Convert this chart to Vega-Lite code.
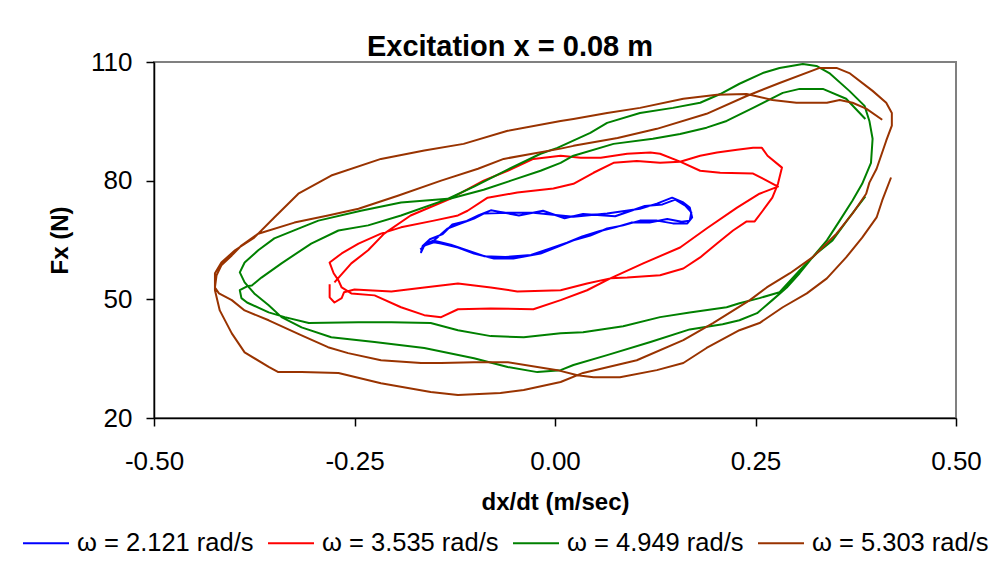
{
"$schema": "https://vega.github.io/schema/vega-lite/v6.json",
"width": 802, "height": 356,
"autosize": {"type": "none"},
"padding": {"left": 154, "top": 62, "right": 47, "bottom": 144},
"background": "white",
"title": {"text": "Excitation x = 0.08 m", "fontSize": 29, "fontWeight": "bold", "font": "Liberation Sans", "color": "black", "anchor": "middle", "dx": -45, "offset": -13},
"data": {"values": [
{"s":"ω = 2.121 rad/s","i":1,"x":-0.167,"y":62.4},
{"s":"ω = 2.121 rad/s","i":2,"x":-0.161,"y":64.1},
{"s":"ω = 2.121 rad/s","i":3,"x":-0.151,"y":64.9},
{"s":"ω = 2.121 rad/s","i":4,"x":-0.134,"y":67.9},
{"s":"ω = 2.121 rad/s","i":5,"x":-0.117,"y":69.2},
{"s":"ω = 2.121 rad/s","i":6,"x":-0.101,"y":70.4},
{"s":"ω = 2.121 rad/s","i":7,"x":-0.089,"y":71.7},
{"s":"ω = 2.121 rad/s","i":8,"x":-0.059,"y":71.9},
{"s":"ω = 2.121 rad/s","i":9,"x":-0.027,"y":71.9},
{"s":"ω = 2.121 rad/s","i":10,"x":0.007,"y":71.2},
{"s":"ω = 2.121 rad/s","i":11,"x":0.023,"y":70.9},
{"s":"ω = 2.121 rad/s","i":12,"x":0.065,"y":71.7},
{"s":"ω = 2.121 rad/s","i":13,"x":0.106,"y":72.9},
{"s":"ω = 2.121 rad/s","i":14,"x":0.127,"y":74.2},
{"s":"ω = 2.121 rad/s","i":15,"x":0.146,"y":75.7},
{"s":"ω = 2.121 rad/s","i":16,"x":0.160,"y":74.5},
{"s":"ω = 2.121 rad/s","i":17,"x":0.168,"y":73.2},
{"s":"ω = 2.121 rad/s","i":18,"x":0.171,"y":70.7},
{"s":"ω = 2.121 rad/s","i":19,"x":0.165,"y":69.2},
{"s":"ω = 2.121 rad/s","i":20,"x":0.147,"y":69.2},
{"s":"ω = 2.121 rad/s","i":21,"x":0.127,"y":69.9},
{"s":"ω = 2.121 rad/s","i":22,"x":0.106,"y":69.9},
{"s":"ω = 2.121 rad/s","i":23,"x":0.085,"y":68.7},
{"s":"ω = 2.121 rad/s","i":24,"x":0.065,"y":67.9},
{"s":"ω = 2.121 rad/s","i":25,"x":0.044,"y":66.1},
{"s":"ω = 2.121 rad/s","i":26,"x":0.023,"y":64.9},
{"s":"ω = 2.121 rad/s","i":27,"x":0.007,"y":63.6},
{"s":"ω = 2.121 rad/s","i":28,"x":-0.018,"y":61.6},
{"s":"ω = 2.121 rad/s","i":29,"x":-0.052,"y":60.3},
{"s":"ω = 2.121 rad/s","i":30,"x":-0.076,"y":60.3},
{"s":"ω = 2.121 rad/s","i":31,"x":-0.101,"y":61.6},
{"s":"ω = 2.121 rad/s","i":32,"x":-0.121,"y":63.1},
{"s":"ω = 2.121 rad/s","i":33,"x":-0.142,"y":64.1},
{"s":"ω = 2.121 rad/s","i":34,"x":-0.151,"y":64.4},
{"s":"ω = 2.121 rad/s","i":35,"x":-0.163,"y":63.6},
{"s":"ω = 2.121 rad/s","i":36,"x":-0.167,"y":61.9},
{"s":"ω = 2.121 rad/s","i":37,"x":-0.165,"y":63.5},
{"s":"ω = 2.121 rad/s","i":38,"x":-0.156,"y":65.2},
{"s":"ω = 2.121 rad/s","i":39,"x":-0.140,"y":66.5},
{"s":"ω = 2.121 rad/s","i":40,"x":-0.128,"y":68.9},
{"s":"ω = 2.121 rad/s","i":41,"x":-0.110,"y":69.8},
{"s":"ω = 2.121 rad/s","i":42,"x":-0.095,"y":71.3},
{"s":"ω = 2.121 rad/s","i":43,"x":-0.080,"y":72.5},
{"s":"ω = 2.121 rad/s","i":44,"x":-0.045,"y":71.2},
{"s":"ω = 2.121 rad/s","i":45,"x":-0.015,"y":72.4},
{"s":"ω = 2.121 rad/s","i":46,"x":0.012,"y":70.5},
{"s":"ω = 2.121 rad/s","i":47,"x":0.035,"y":71.6},
{"s":"ω = 2.121 rad/s","i":48,"x":0.075,"y":71.0},
{"s":"ω = 2.121 rad/s","i":49,"x":0.112,"y":73.6},
{"s":"ω = 2.121 rad/s","i":50,"x":0.134,"y":74.0},
{"s":"ω = 2.121 rad/s","i":51,"x":0.150,"y":75.2},
{"s":"ω = 2.121 rad/s","i":52,"x":0.163,"y":73.6},
{"s":"ω = 2.121 rad/s","i":53,"x":0.170,"y":72.0},
{"s":"ω = 2.121 rad/s","i":54,"x":0.168,"y":69.9},
{"s":"ω = 2.121 rad/s","i":55,"x":0.158,"y":69.6},
{"s":"ω = 2.121 rad/s","i":56,"x":0.140,"y":70.3},
{"s":"ω = 2.121 rad/s","i":57,"x":0.118,"y":69.4},
{"s":"ω = 2.121 rad/s","i":58,"x":0.095,"y":69.4},
{"s":"ω = 2.121 rad/s","i":59,"x":0.075,"y":68.2},
{"s":"ω = 2.121 rad/s","i":60,"x":0.055,"y":67.2},
{"s":"ω = 2.121 rad/s","i":61,"x":0.034,"y":65.9},
{"s":"ω = 2.121 rad/s","i":62,"x":0.015,"y":64.3},
{"s":"ω = 2.121 rad/s","i":63,"x":-0.005,"y":62.9},
{"s":"ω = 2.121 rad/s","i":64,"x":-0.030,"y":61.2},
{"s":"ω = 2.121 rad/s","i":65,"x":-0.062,"y":60.7},
{"s":"ω = 2.121 rad/s","i":66,"x":-0.088,"y":60.9},
{"s":"ω = 2.121 rad/s","i":67,"x":-0.110,"y":62.4},
{"s":"ω = 2.121 rad/s","i":68,"x":-0.130,"y":63.8},
{"s":"ω = 2.121 rad/s","i":69,"x":-0.148,"y":64.7},
{"s":"ω = 2.121 rad/s","i":70,"x":-0.160,"y":64.0},
{"s":"ω = 2.121 rad/s","i":71,"x":-0.168,"y":62.6},
{"s":"ω = 3.535 rad/s","i":1,"x":-0.275,"y":54.3},
{"s":"ω = 3.535 rad/s","i":2,"x":-0.254,"y":59.1},
{"s":"ω = 3.535 rad/s","i":3,"x":-0.233,"y":62.4},
{"s":"ω = 3.535 rad/s","i":4,"x":-0.213,"y":66.6},
{"s":"ω = 3.535 rad/s","i":5,"x":-0.180,"y":71.2},
{"s":"ω = 3.535 rad/s","i":6,"x":-0.130,"y":75.5},
{"s":"ω = 3.535 rad/s","i":7,"x":-0.089,"y":80.0},
{"s":"ω = 3.535 rad/s","i":8,"x":-0.059,"y":82.5},
{"s":"ω = 3.535 rad/s","i":9,"x":-0.027,"y":85.5},
{"s":"ω = 3.535 rad/s","i":10,"x":0.007,"y":86.3},
{"s":"ω = 3.535 rad/s","i":11,"x":0.032,"y":85.8},
{"s":"ω = 3.535 rad/s","i":12,"x":0.057,"y":85.8},
{"s":"ω = 3.535 rad/s","i":13,"x":0.090,"y":86.8},
{"s":"ω = 3.535 rad/s","i":14,"x":0.119,"y":87.1},
{"s":"ω = 3.535 rad/s","i":15,"x":0.131,"y":86.8},
{"s":"ω = 3.535 rad/s","i":16,"x":0.156,"y":84.8},
{"s":"ω = 3.535 rad/s","i":17,"x":0.181,"y":82.5},
{"s":"ω = 3.535 rad/s","i":18,"x":0.206,"y":82.0},
{"s":"ω = 3.535 rad/s","i":19,"x":0.247,"y":81.8},
{"s":"ω = 3.535 rad/s","i":20,"x":0.264,"y":80.0},
{"s":"ω = 3.535 rad/s","i":21,"x":0.278,"y":78.5},
{"s":"ω = 3.535 rad/s","i":22,"x":0.255,"y":76.7},
{"s":"ω = 3.535 rad/s","i":23,"x":0.227,"y":73.2},
{"s":"ω = 3.535 rad/s","i":24,"x":0.189,"y":67.9},
{"s":"ω = 3.535 rad/s","i":25,"x":0.156,"y":63.1},
{"s":"ω = 3.535 rad/s","i":26,"x":0.110,"y":59.1},
{"s":"ω = 3.535 rad/s","i":27,"x":0.069,"y":55.3},
{"s":"ω = 3.535 rad/s","i":28,"x":0.040,"y":52.3},
{"s":"ω = 3.535 rad/s","i":29,"x":0.007,"y":49.8},
{"s":"ω = 3.535 rad/s","i":30,"x":-0.027,"y":47.5},
{"s":"ω = 3.535 rad/s","i":31,"x":-0.080,"y":47.7},
{"s":"ω = 3.535 rad/s","i":32,"x":-0.121,"y":47.5},
{"s":"ω = 3.535 rad/s","i":33,"x":-0.142,"y":45.5},
{"s":"ω = 3.535 rad/s","i":34,"x":-0.163,"y":46.0},
{"s":"ω = 3.535 rad/s","i":35,"x":-0.192,"y":48.0},
{"s":"ω = 3.535 rad/s","i":36,"x":-0.225,"y":51.0},
{"s":"ω = 3.535 rad/s","i":37,"x":-0.254,"y":51.5},
{"s":"ω = 3.535 rad/s","i":38,"x":-0.266,"y":53.0},
{"s":"ω = 3.535 rad/s","i":39,"x":-0.270,"y":54.8},
{"s":"ω = 3.535 rad/s","i":40,"x":-0.276,"y":56.6},
{"s":"ω = 3.535 rad/s","i":41,"x":-0.281,"y":59.3},
{"s":"ω = 3.535 rad/s","i":42,"x":-0.266,"y":61.6},
{"s":"ω = 3.535 rad/s","i":43,"x":-0.245,"y":64.1},
{"s":"ω = 3.535 rad/s","i":44,"x":-0.217,"y":66.6},
{"s":"ω = 3.535 rad/s","i":45,"x":-0.192,"y":68.2},
{"s":"ω = 3.535 rad/s","i":46,"x":-0.151,"y":69.9},
{"s":"ω = 3.535 rad/s","i":47,"x":-0.121,"y":71.2},
{"s":"ω = 3.535 rad/s","i":48,"x":-0.109,"y":72.4},
{"s":"ω = 3.535 rad/s","i":49,"x":-0.084,"y":75.7},
{"s":"ω = 3.535 rad/s","i":50,"x":-0.047,"y":77.0},
{"s":"ω = 3.535 rad/s","i":51,"x":-0.002,"y":78.0},
{"s":"ω = 3.535 rad/s","i":52,"x":0.023,"y":79.2},
{"s":"ω = 3.535 rad/s","i":53,"x":0.048,"y":82.0},
{"s":"ω = 3.535 rad/s","i":54,"x":0.073,"y":84.5},
{"s":"ω = 3.535 rad/s","i":55,"x":0.102,"y":85.0},
{"s":"ω = 3.535 rad/s","i":56,"x":0.131,"y":84.5},
{"s":"ω = 3.535 rad/s","i":57,"x":0.156,"y":84.8},
{"s":"ω = 3.535 rad/s","i":58,"x":0.181,"y":86.3},
{"s":"ω = 3.535 rad/s","i":59,"x":0.202,"y":87.1},
{"s":"ω = 3.535 rad/s","i":60,"x":0.227,"y":87.8},
{"s":"ω = 3.535 rad/s","i":61,"x":0.247,"y":88.3},
{"s":"ω = 3.535 rad/s","i":62,"x":0.258,"y":88.3},
{"s":"ω = 3.535 rad/s","i":63,"x":0.265,"y":86.3},
{"s":"ω = 3.535 rad/s","i":64,"x":0.280,"y":83.8},
{"s":"ω = 3.535 rad/s","i":65,"x":0.283,"y":83.3},
{"s":"ω = 3.535 rad/s","i":66,"x":0.278,"y":79.2},
{"s":"ω = 3.535 rad/s","i":67,"x":0.271,"y":75.7},
{"s":"ω = 3.535 rad/s","i":68,"x":0.259,"y":72.4},
{"s":"ω = 3.535 rad/s","i":69,"x":0.249,"y":69.7},
{"s":"ω = 3.535 rad/s","i":70,"x":0.239,"y":69.7},
{"s":"ω = 3.535 rad/s","i":71,"x":0.222,"y":67.4},
{"s":"ω = 3.535 rad/s","i":72,"x":0.202,"y":64.1},
{"s":"ω = 3.535 rad/s","i":73,"x":0.181,"y":60.6},
{"s":"ω = 3.535 rad/s","i":74,"x":0.160,"y":57.8},
{"s":"ω = 3.535 rad/s","i":75,"x":0.131,"y":56.1},
{"s":"ω = 3.535 rad/s","i":76,"x":0.090,"y":55.5},
{"s":"ω = 3.535 rad/s","i":77,"x":0.069,"y":55.3},
{"s":"ω = 3.535 rad/s","i":78,"x":0.040,"y":54.0},
{"s":"ω = 3.535 rad/s","i":79,"x":0.007,"y":52.3},
{"s":"ω = 3.535 rad/s","i":80,"x":-0.047,"y":52.0},
{"s":"ω = 3.535 rad/s","i":81,"x":-0.080,"y":53.0},
{"s":"ω = 3.535 rad/s","i":82,"x":-0.121,"y":54.0},
{"s":"ω = 3.535 rad/s","i":83,"x":-0.163,"y":53.0},
{"s":"ω = 3.535 rad/s","i":84,"x":-0.204,"y":52.0},
{"s":"ω = 3.535 rad/s","i":85,"x":-0.250,"y":52.5},
{"s":"ω = 3.535 rad/s","i":86,"x":-0.263,"y":51.8},
{"s":"ω = 3.535 rad/s","i":87,"x":-0.266,"y":50.3},
{"s":"ω = 3.535 rad/s","i":88,"x":-0.275,"y":49.2},
{"s":"ω = 3.535 rad/s","i":89,"x":-0.281,"y":50.5},
{"s":"ω = 3.535 rad/s","i":90,"x":-0.281,"y":53.8},
{"s":"ω = 4.949 rad/s","i":1,"x":0.387,"y":76.0},
{"s":"ω = 4.949 rad/s","i":2,"x":0.367,"y":70.7},
{"s":"ω = 4.949 rad/s","i":3,"x":0.346,"y":64.9},
{"s":"ω = 4.949 rad/s","i":4,"x":0.326,"y":61.6},
{"s":"ω = 4.949 rad/s","i":5,"x":0.305,"y":57.3},
{"s":"ω = 4.949 rad/s","i":6,"x":0.280,"y":51.8},
{"s":"ω = 4.949 rad/s","i":7,"x":0.255,"y":50.3},
{"s":"ω = 4.949 rad/s","i":8,"x":0.230,"y":49.0},
{"s":"ω = 4.949 rad/s","i":9,"x":0.214,"y":48.0},
{"s":"ω = 4.949 rad/s","i":10,"x":0.168,"y":46.7},
{"s":"ω = 4.949 rad/s","i":11,"x":0.131,"y":45.5},
{"s":"ω = 4.949 rad/s","i":12,"x":0.085,"y":43.2},
{"s":"ω = 4.949 rad/s","i":13,"x":0.035,"y":41.7},
{"s":"ω = 4.949 rad/s","i":14,"x":0.007,"y":41.4},
{"s":"ω = 4.949 rad/s","i":15,"x":-0.039,"y":40.4},
{"s":"ω = 4.949 rad/s","i":16,"x":-0.080,"y":40.7},
{"s":"ω = 4.949 rad/s","i":17,"x":-0.121,"y":42.2},
{"s":"ω = 4.949 rad/s","i":18,"x":-0.155,"y":44.0},
{"s":"ω = 4.949 rad/s","i":19,"x":-0.204,"y":44.2},
{"s":"ω = 4.949 rad/s","i":20,"x":-0.245,"y":44.2},
{"s":"ω = 4.949 rad/s","i":21,"x":-0.307,"y":44.0},
{"s":"ω = 4.949 rad/s","i":22,"x":-0.337,"y":45.5},
{"s":"ω = 4.949 rad/s","i":23,"x":-0.357,"y":46.7},
{"s":"ω = 4.949 rad/s","i":24,"x":-0.384,"y":49.2},
{"s":"ω = 4.949 rad/s","i":25,"x":-0.391,"y":50.3},
{"s":"ω = 4.949 rad/s","i":26,"x":-0.393,"y":52.3},
{"s":"ω = 4.949 rad/s","i":27,"x":-0.384,"y":53.3},
{"s":"ω = 4.949 rad/s","i":28,"x":-0.378,"y":53.5},
{"s":"ω = 4.949 rad/s","i":29,"x":-0.366,"y":55.5},
{"s":"ω = 4.949 rad/s","i":30,"x":-0.341,"y":59.1},
{"s":"ω = 4.949 rad/s","i":31,"x":-0.304,"y":64.1},
{"s":"ω = 4.949 rad/s","i":32,"x":-0.270,"y":67.4},
{"s":"ω = 4.949 rad/s","i":33,"x":-0.233,"y":68.7},
{"s":"ω = 4.949 rad/s","i":34,"x":-0.192,"y":71.2},
{"s":"ω = 4.949 rad/s","i":35,"x":-0.136,"y":75.2},
{"s":"ω = 4.949 rad/s","i":36,"x":-0.101,"y":78.5},
{"s":"ω = 4.949 rad/s","i":37,"x":-0.059,"y":82.8},
{"s":"ω = 4.949 rad/s","i":38,"x":-0.018,"y":86.8},
{"s":"ω = 4.949 rad/s","i":39,"x":0.003,"y":88.3},
{"s":"ω = 4.949 rad/s","i":40,"x":0.044,"y":92.1},
{"s":"ω = 4.949 rad/s","i":41,"x":0.065,"y":94.6},
{"s":"ω = 4.949 rad/s","i":42,"x":0.106,"y":97.1},
{"s":"ω = 4.949 rad/s","i":43,"x":0.147,"y":98.4},
{"s":"ω = 4.949 rad/s","i":44,"x":0.181,"y":99.7},
{"s":"ω = 4.949 rad/s","i":45,"x":0.206,"y":101.9},
{"s":"ω = 4.949 rad/s","i":46,"x":0.230,"y":104.5},
{"s":"ω = 4.949 rad/s","i":47,"x":0.259,"y":107.2},
{"s":"ω = 4.949 rad/s","i":48,"x":0.280,"y":108.5},
{"s":"ω = 4.949 rad/s","i":49,"x":0.309,"y":109.5},
{"s":"ω = 4.949 rad/s","i":50,"x":0.326,"y":109.0},
{"s":"ω = 4.949 rad/s","i":51,"x":0.342,"y":107.2},
{"s":"ω = 4.949 rad/s","i":52,"x":0.367,"y":102.7},
{"s":"ω = 4.949 rad/s","i":53,"x":0.386,"y":98.9},
{"s":"ω = 4.949 rad/s","i":54,"x":0.392,"y":95.1},
{"s":"ω = 4.949 rad/s","i":55,"x":0.396,"y":90.6},
{"s":"ω = 4.949 rad/s","i":56,"x":0.394,"y":84.5},
{"s":"ω = 4.949 rad/s","i":57,"x":0.383,"y":79.2},
{"s":"ω = 4.949 rad/s","i":58,"x":0.371,"y":75.0},
{"s":"ω = 4.949 rad/s","i":59,"x":0.355,"y":69.9},
{"s":"ω = 4.949 rad/s","i":60,"x":0.339,"y":64.9},
{"s":"ω = 4.949 rad/s","i":61,"x":0.321,"y":60.6},
{"s":"ω = 4.949 rad/s","i":62,"x":0.305,"y":56.6},
{"s":"ω = 4.949 rad/s","i":63,"x":0.289,"y":53.0},
{"s":"ω = 4.949 rad/s","i":64,"x":0.271,"y":49.8},
{"s":"ω = 4.949 rad/s","i":65,"x":0.252,"y":46.5},
{"s":"ω = 4.949 rad/s","i":66,"x":0.230,"y":44.7},
{"s":"ω = 4.949 rad/s","i":67,"x":0.209,"y":43.7},
{"s":"ω = 4.949 rad/s","i":68,"x":0.168,"y":42.4},
{"s":"ω = 4.949 rad/s","i":69,"x":0.119,"y":39.2},
{"s":"ω = 4.949 rad/s","i":70,"x":0.065,"y":35.9},
{"s":"ω = 4.949 rad/s","i":71,"x":0.023,"y":33.4},
{"s":"ω = 4.949 rad/s","i":72,"x":0.007,"y":32.1},
{"s":"ω = 4.949 rad/s","i":73,"x":-0.022,"y":31.6},
{"s":"ω = 4.949 rad/s","i":74,"x":-0.059,"y":32.9},
{"s":"ω = 4.949 rad/s","i":75,"x":-0.101,"y":35.1},
{"s":"ω = 4.949 rad/s","i":76,"x":-0.163,"y":37.7},
{"s":"ω = 4.949 rad/s","i":77,"x":-0.225,"y":39.2},
{"s":"ω = 4.949 rad/s","i":78,"x":-0.279,"y":40.4},
{"s":"ω = 4.949 rad/s","i":79,"x":-0.316,"y":42.9},
{"s":"ω = 4.949 rad/s","i":80,"x":-0.341,"y":45.5},
{"s":"ω = 4.949 rad/s","i":81,"x":-0.357,"y":48.5},
{"s":"ω = 4.949 rad/s","i":82,"x":-0.375,"y":51.5},
{"s":"ω = 4.949 rad/s","i":83,"x":-0.387,"y":54.3},
{"s":"ω = 4.949 rad/s","i":84,"x":-0.393,"y":56.8},
{"s":"ω = 4.949 rad/s","i":85,"x":-0.387,"y":59.3},
{"s":"ω = 4.949 rad/s","i":86,"x":-0.370,"y":62.4},
{"s":"ω = 4.949 rad/s","i":87,"x":-0.350,"y":65.4},
{"s":"ω = 4.949 rad/s","i":88,"x":-0.316,"y":68.2},
{"s":"ω = 4.949 rad/s","i":89,"x":-0.295,"y":69.9},
{"s":"ω = 4.949 rad/s","i":90,"x":-0.242,"y":72.4},
{"s":"ω = 4.949 rad/s","i":91,"x":-0.192,"y":74.5},
{"s":"ω = 4.949 rad/s","i":92,"x":-0.130,"y":75.5},
{"s":"ω = 4.949 rad/s","i":93,"x":-0.089,"y":77.7},
{"s":"ω = 4.949 rad/s","i":94,"x":-0.055,"y":80.0},
{"s":"ω = 4.949 rad/s","i":95,"x":-0.018,"y":82.5},
{"s":"ω = 4.949 rad/s","i":96,"x":0.007,"y":84.5},
{"s":"ω = 4.949 rad/s","i":97,"x":0.023,"y":86.3},
{"s":"ω = 4.949 rad/s","i":98,"x":0.073,"y":89.3},
{"s":"ω = 4.949 rad/s","i":99,"x":0.122,"y":90.6},
{"s":"ω = 4.949 rad/s","i":100,"x":0.156,"y":91.8},
{"s":"ω = 4.949 rad/s","i":101,"x":0.189,"y":93.4},
{"s":"ω = 4.949 rad/s","i":102,"x":0.214,"y":95.1},
{"s":"ω = 4.949 rad/s","i":103,"x":0.247,"y":98.4},
{"s":"ω = 4.949 rad/s","i":104,"x":0.284,"y":102.2},
{"s":"ω = 4.949 rad/s","i":105,"x":0.305,"y":103.2},
{"s":"ω = 4.949 rad/s","i":106,"x":0.334,"y":103.2},
{"s":"ω = 4.949 rad/s","i":107,"x":0.363,"y":100.7},
{"s":"ω = 4.949 rad/s","i":108,"x":0.387,"y":95.6},
{"s":"ω = 5.303 rad/s","i":1,"x":0.419,"y":80.8},
{"s":"ω = 5.303 rad/s","i":2,"x":0.408,"y":75.0},
{"s":"ω = 5.303 rad/s","i":3,"x":0.401,"y":70.7},
{"s":"ω = 5.303 rad/s","i":4,"x":0.383,"y":65.6},
{"s":"ω = 5.303 rad/s","i":5,"x":0.363,"y":60.6},
{"s":"ω = 5.303 rad/s","i":6,"x":0.339,"y":55.3},
{"s":"ω = 5.303 rad/s","i":7,"x":0.314,"y":51.5},
{"s":"ω = 5.303 rad/s","i":8,"x":0.284,"y":48.0},
{"s":"ω = 5.303 rad/s","i":9,"x":0.255,"y":44.0},
{"s":"ω = 5.303 rad/s","i":10,"x":0.230,"y":42.2},
{"s":"ω = 5.303 rad/s","i":11,"x":0.189,"y":37.7},
{"s":"ω = 5.303 rad/s","i":12,"x":0.160,"y":33.9},
{"s":"ω = 5.303 rad/s","i":13,"x":0.127,"y":32.1},
{"s":"ω = 5.303 rad/s","i":14,"x":0.081,"y":30.3},
{"s":"ω = 5.303 rad/s","i":15,"x":0.048,"y":30.3},
{"s":"ω = 5.303 rad/s","i":16,"x":0.028,"y":30.8},
{"s":"ω = 5.303 rad/s","i":17,"x":0.003,"y":32.1},
{"s":"ω = 5.303 rad/s","i":18,"x":-0.059,"y":34.1},
{"s":"ω = 5.303 rad/s","i":19,"x":-0.101,"y":34.1},
{"s":"ω = 5.303 rad/s","i":20,"x":-0.142,"y":33.9},
{"s":"ω = 5.303 rad/s","i":21,"x":-0.167,"y":33.9},
{"s":"ω = 5.303 rad/s","i":22,"x":-0.217,"y":34.6},
{"s":"ω = 5.303 rad/s","i":23,"x":-0.258,"y":36.4},
{"s":"ω = 5.303 rad/s","i":24,"x":-0.283,"y":37.9},
{"s":"ω = 5.303 rad/s","i":25,"x":-0.316,"y":40.9},
{"s":"ω = 5.303 rad/s","i":26,"x":-0.357,"y":44.7},
{"s":"ω = 5.303 rad/s","i":27,"x":-0.387,"y":47.2},
{"s":"ω = 5.303 rad/s","i":28,"x":-0.403,"y":49.8},
{"s":"ω = 5.303 rad/s","i":29,"x":-0.419,"y":51.5},
{"s":"ω = 5.303 rad/s","i":30,"x":-0.424,"y":53.0},
{"s":"ω = 5.303 rad/s","i":31,"x":-0.422,"y":56.1},
{"s":"ω = 5.303 rad/s","i":32,"x":-0.416,"y":58.6},
{"s":"ω = 5.303 rad/s","i":33,"x":-0.403,"y":61.1},
{"s":"ω = 5.303 rad/s","i":34,"x":-0.391,"y":63.6},
{"s":"ω = 5.303 rad/s","i":35,"x":-0.370,"y":66.6},
{"s":"ω = 5.303 rad/s","i":36,"x":-0.325,"y":69.4},
{"s":"ω = 5.303 rad/s","i":37,"x":-0.283,"y":71.2},
{"s":"ω = 5.303 rad/s","i":38,"x":-0.245,"y":72.9},
{"s":"ω = 5.303 rad/s","i":39,"x":-0.196,"y":76.2},
{"s":"ω = 5.303 rad/s","i":40,"x":-0.142,"y":80.0},
{"s":"ω = 5.303 rad/s","i":41,"x":-0.096,"y":83.0},
{"s":"ω = 5.303 rad/s","i":42,"x":-0.064,"y":85.5},
{"s":"ω = 5.303 rad/s","i":43,"x":0.007,"y":88.1},
{"s":"ω = 5.303 rad/s","i":44,"x":0.023,"y":88.8},
{"s":"ω = 5.303 rad/s","i":45,"x":0.078,"y":90.8},
{"s":"ω = 5.303 rad/s","i":46,"x":0.127,"y":93.1},
{"s":"ω = 5.303 rad/s","i":47,"x":0.189,"y":96.9},
{"s":"ω = 5.303 rad/s","i":48,"x":0.239,"y":101.4},
{"s":"ω = 5.303 rad/s","i":49,"x":0.280,"y":104.7},
{"s":"ω = 5.303 rad/s","i":50,"x":0.330,"y":108.5},
{"s":"ω = 5.303 rad/s","i":51,"x":0.351,"y":108.5},
{"s":"ω = 5.303 rad/s","i":52,"x":0.367,"y":107.2},
{"s":"ω = 5.303 rad/s","i":53,"x":0.396,"y":102.7},
{"s":"ω = 5.303 rad/s","i":54,"x":0.413,"y":99.7},
{"s":"ω = 5.303 rad/s","i":55,"x":0.420,"y":97.1},
{"s":"ω = 5.303 rad/s","i":56,"x":0.420,"y":93.9},
{"s":"ω = 5.303 rad/s","i":57,"x":0.413,"y":90.1},
{"s":"ω = 5.303 rad/s","i":58,"x":0.401,"y":83.0},
{"s":"ω = 5.303 rad/s","i":59,"x":0.392,"y":79.5},
{"s":"ω = 5.303 rad/s","i":60,"x":0.388,"y":76.7},
{"s":"ω = 5.303 rad/s","i":61,"x":0.371,"y":71.7},
{"s":"ω = 5.303 rad/s","i":62,"x":0.351,"y":66.6},
{"s":"ω = 5.303 rad/s","i":63,"x":0.321,"y":60.6},
{"s":"ω = 5.303 rad/s","i":64,"x":0.293,"y":56.6},
{"s":"ω = 5.303 rad/s","i":65,"x":0.264,"y":53.0},
{"s":"ω = 5.303 rad/s","i":66,"x":0.243,"y":49.8},
{"s":"ω = 5.303 rad/s","i":67,"x":0.197,"y":44.0},
{"s":"ω = 5.303 rad/s","i":68,"x":0.160,"y":39.7},
{"s":"ω = 5.303 rad/s","i":69,"x":0.102,"y":34.6},
{"s":"ω = 5.303 rad/s","i":70,"x":0.035,"y":31.4},
{"s":"ω = 5.303 rad/s","i":71,"x":0.007,"y":29.1},
{"s":"ω = 5.303 rad/s","i":72,"x":-0.039,"y":27.1},
{"s":"ω = 5.303 rad/s","i":73,"x":-0.068,"y":26.3},
{"s":"ω = 5.303 rad/s","i":74,"x":-0.121,"y":25.8},
{"s":"ω = 5.303 rad/s","i":75,"x":-0.155,"y":26.6},
{"s":"ω = 5.303 rad/s","i":76,"x":-0.217,"y":28.8},
{"s":"ω = 5.303 rad/s","i":77,"x":-0.270,"y":31.4},
{"s":"ω = 5.303 rad/s","i":78,"x":-0.316,"y":31.6},
{"s":"ω = 5.303 rad/s","i":79,"x":-0.345,"y":31.6},
{"s":"ω = 5.303 rad/s","i":80,"x":-0.357,"y":32.9},
{"s":"ω = 5.303 rad/s","i":81,"x":-0.387,"y":36.6},
{"s":"ω = 5.303 rad/s","i":82,"x":-0.403,"y":41.4},
{"s":"ω = 5.303 rad/s","i":83,"x":-0.418,"y":47.2},
{"s":"ω = 5.303 rad/s","i":84,"x":-0.424,"y":52.3},
{"s":"ω = 5.303 rad/s","i":85,"x":-0.424,"y":56.6},
{"s":"ω = 5.303 rad/s","i":86,"x":-0.416,"y":59.3},
{"s":"ω = 5.303 rad/s","i":87,"x":-0.399,"y":62.4},
{"s":"ω = 5.303 rad/s","i":88,"x":-0.375,"y":65.6},
{"s":"ω = 5.303 rad/s","i":89,"x":-0.350,"y":70.7},
{"s":"ω = 5.303 rad/s","i":90,"x":-0.320,"y":76.7},
{"s":"ω = 5.303 rad/s","i":91,"x":-0.279,"y":81.3},
{"s":"ω = 5.303 rad/s","i":92,"x":-0.217,"y":85.5},
{"s":"ω = 5.303 rad/s","i":93,"x":-0.163,"y":87.6},
{"s":"ω = 5.303 rad/s","i":94,"x":-0.114,"y":89.3},
{"s":"ω = 5.303 rad/s","i":95,"x":-0.059,"y":92.6},
{"s":"ω = 5.303 rad/s","i":96,"x":0.007,"y":95.1},
{"s":"ω = 5.303 rad/s","i":97,"x":0.023,"y":95.6},
{"s":"ω = 5.303 rad/s","i":98,"x":0.065,"y":97.1},
{"s":"ω = 5.303 rad/s","i":99,"x":0.106,"y":98.4},
{"s":"ω = 5.303 rad/s","i":100,"x":0.160,"y":100.7},
{"s":"ω = 5.303 rad/s","i":101,"x":0.202,"y":101.7},
{"s":"ω = 5.303 rad/s","i":102,"x":0.239,"y":101.9},
{"s":"ω = 5.303 rad/s","i":103,"x":0.271,"y":100.4},
{"s":"ω = 5.303 rad/s","i":104,"x":0.301,"y":99.7},
{"s":"ω = 5.303 rad/s","i":105,"x":0.339,"y":99.7},
{"s":"ω = 5.303 rad/s","i":106,"x":0.355,"y":100.4},
{"s":"ω = 5.303 rad/s","i":107,"x":0.371,"y":99.7},
{"s":"ω = 5.303 rad/s","i":108,"x":0.388,"y":98.2},
{"s":"ω = 5.303 rad/s","i":109,"x":0.408,"y":95.4}
]},
"mark": {"type": "line", "strokeWidth": 2, "strokeJoin": "round"},
"encoding": {
  "x": {"field": "x", "type": "quantitative", "scale": {"domain": [-0.5, 0.5], "nice": false, "zero": false},
        "axis": {"title": "dx/dt (m/sec)", "values": [-0.5, -0.25, 0, 0.25, 0.5], "labelExpr": "datum.value < 0 ? '-' + format(-datum.value, '.2f') : format(datum.value, '.2f')", "labelPadding": 22, "titlePadding": 16}},
  "y": {"field": "y", "type": "quantitative", "scale": {"domain": [20, 110], "nice": false, "zero": false},
        "axis": {"title": "Fx (N)", "values": [20, 50, 80, 110], "labelPadding": 14, "titlePadding": 18}},
  "color": {"field": "s", "type": "nominal",
            "scale": {"domain": ["ω = 2.121 rad/s", "ω = 3.535 rad/s", "ω = 4.949 rad/s", "ω = 5.303 rad/s"], "range": ["#0000FF", "#FF0000", "#008000", "#993300"]},
            "legend": {"orient": "none", "legendX": -132, "legendY": 457, "direction": "horizontal", "title": null, "symbolType": "stroke", "symbolSize": 2116, "symbolStrokeWidth": 2, "labelFontSize": 25.5, "labelFont": "Liberation Sans", "labelColor": "black", "labelOffset": 7, "columnPadding": 10, "labelLimit": 400}},
  "order": {"field": "i", "type": "quantitative"}
},
"config": {
  "view": {"stroke": "#808080", "strokeWidth": 2},
  "axis": {"grid": false, "domainColor": "black", "domainWidth": 1.5, "tickColor": "black", "tickWidth": 1.5, "tickSize": 8, "labelFont": "Liberation Sans", "labelFontSize": 26, "labelColor": "black", "labelFlush": false, "labelOverlap": false, "titleFont": "Liberation Sans", "titleFontSize": 24, "titleFontWeight": "bold", "titleColor": "black"}
}
}
